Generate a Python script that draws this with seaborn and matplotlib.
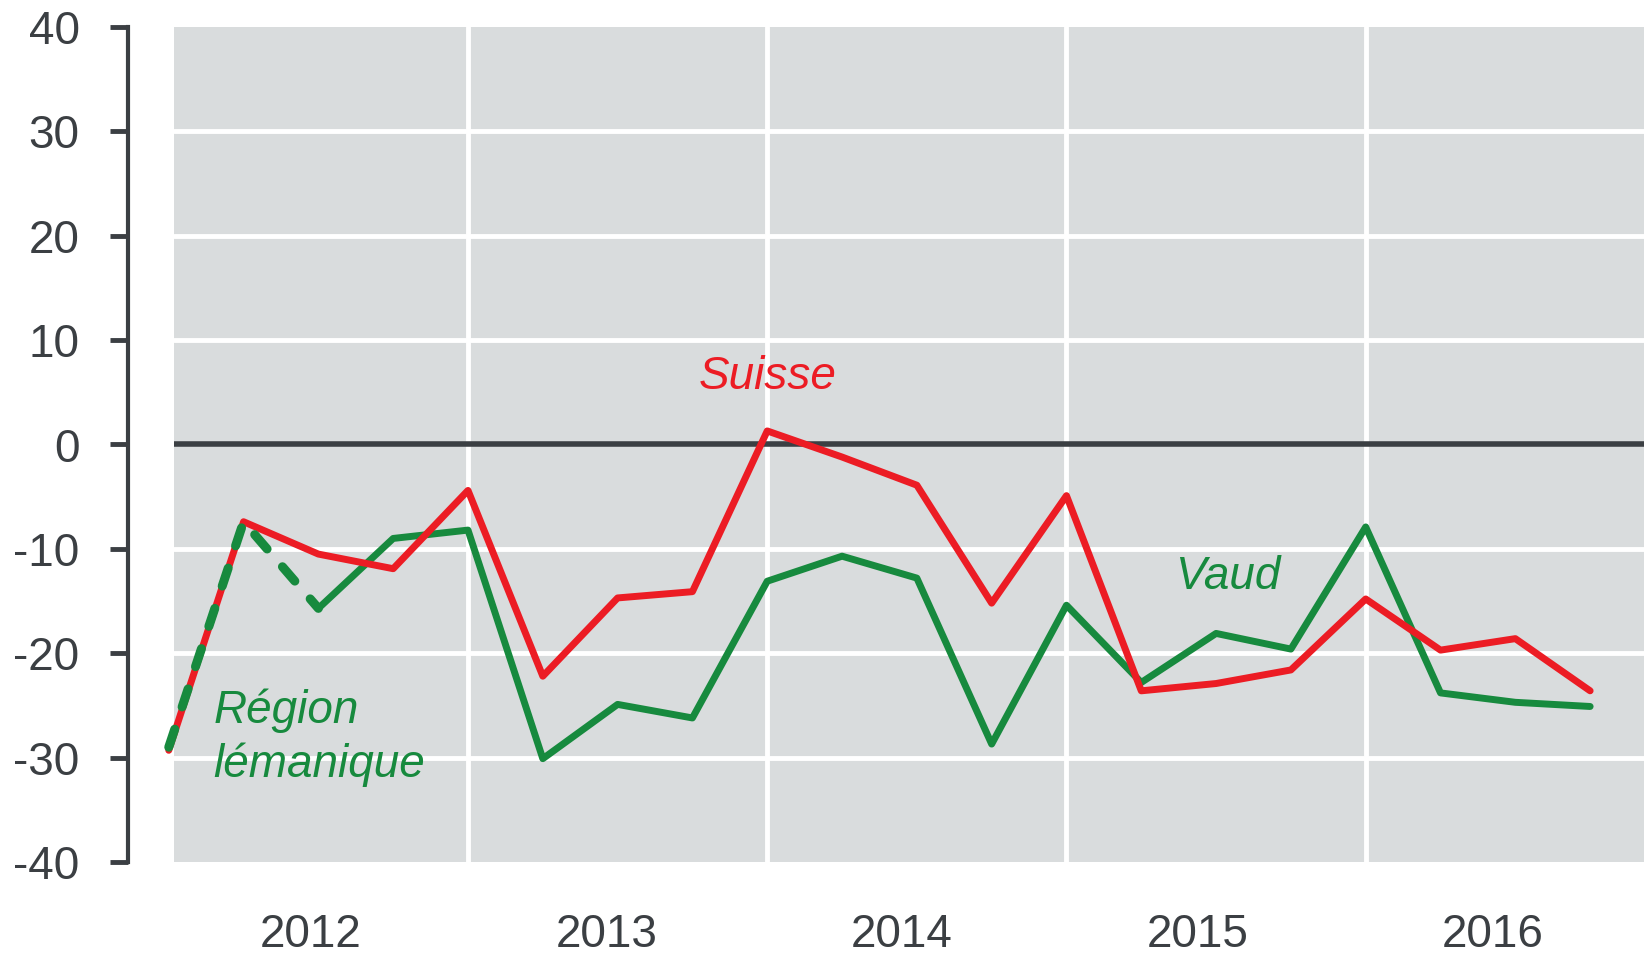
import numpy as np
import matplotlib
matplotlib.use("Agg")
import matplotlib.pyplot as plt
import seaborn as sns

# quarterly index, 2012 Q1 .. 2016 Q4
quarters = list(range(20))
suisse = [-29.3, -7.4, -10.5, -11.9, -4.4, -22.2, -14.7, -14.1, 1.3, -1.2,
          -3.9, -15.2, -4.9, -23.6, -22.9, -21.6, -14.8, -19.7, -18.6, -23.6]
vaud = [np.nan, np.nan, -15.7, -9.0, -8.2, -30.1, -24.9, -26.2, -13.1, -10.7,
        -12.8, -28.7, -15.4, -22.8, -18.1, -19.6, -7.9, -23.8, -24.7, -25.1]
lemanique = [-29.0, -7.4, -15.7] + [np.nan] * 17
years = ["2012", "2013", "2014", "2015", "2016"]
y_ticks = [-40, -30, -20, -10, 0, 10, 20, 30, 40]

RED = "#ec1c24"
GREEN = "#178a3e"
DARK = "#3b3f43"
BG = "#d9dcdd"

sns.set_style("white")
plt.rcParams["font.family"] = ["Liberation Sans", "DejaVu Sans"]

fig = plt.figure(figsize=(16.44, 9.55), dpi=100)
ax = fig.add_axes([174 / 1644, 1 - 862 / 955, 1 - 174 / 1644, (862 - 27) / 955])
ax.set_facecolor(BG)

ax.set_xlim(0.07, 19.72)
ax.set_ylim(-40, 40)

# grid
for v in y_ticks[1:-1]:
    if v != 0:
        ax.axhline(v, color="white", lw=3.5, zorder=1)
for b in [4, 8, 12, 16]:
    ax.axvline(b, color="white", lw=3.5, zorder=1)
ax.axhline(0, color=DARK, lw=4, zorder=2)

# series
sns.lineplot(x=quarters, y=vaud, ax=ax, color=GREEN, linewidth=5, zorder=3, clip_on=False)
sns.lineplot(x=quarters, y=suisse, ax=ax, color=RED, linewidth=5, zorder=4, clip_on=False)
sns.lineplot(x=quarters, y=lemanique, ax=ax, color=GREEN, linewidth=6.5, zorder=5, clip_on=False,
             ls=(0, (2.1, 2.6)), dash_capstyle="round")

# labels on lines
ax.text(8.0, 6.5, "Suisse", color=RED, style="italic", fontsize=33, ha="center", va="center")
ax.text(14.15, -12.7, "Vaud", color=GREEN, style="italic", fontsize=33, ha="center", va="center")
ax.text(0.6, -28.1, "Région\nlémanique", color=GREEN, style="italic", fontsize=33,
        ha="left", va="center", linespacing=1.28)

# axes
sns.despine(ax=ax, left=False, bottom=True, offset={"left": 33})
ax.spines["left"].set_bounds(-40, 40)
ax.spines["left"].set_color(DARK)
ax.spines["left"].set_linewidth(3)
ax.set_yticks(y_ticks)
ax.set_yticklabels([str(v) for v in y_ticks])
ax.tick_params(axis="y", left=True, length=13, width=3.5, color=DARK, pad=22,
               labelsize=33, labelcolor=DARK)

ax.set_xticks([1.9, 5.85, 9.8, 13.75, 17.7])
ax.set_xticklabels(years)
ax.tick_params(axis="x", bottom=False, length=0, pad=37, labelsize=33, labelcolor=DARK)

ax.set_xlabel("")
ax.set_ylabel("")

fig.savefig("out.png", dpi=100)
